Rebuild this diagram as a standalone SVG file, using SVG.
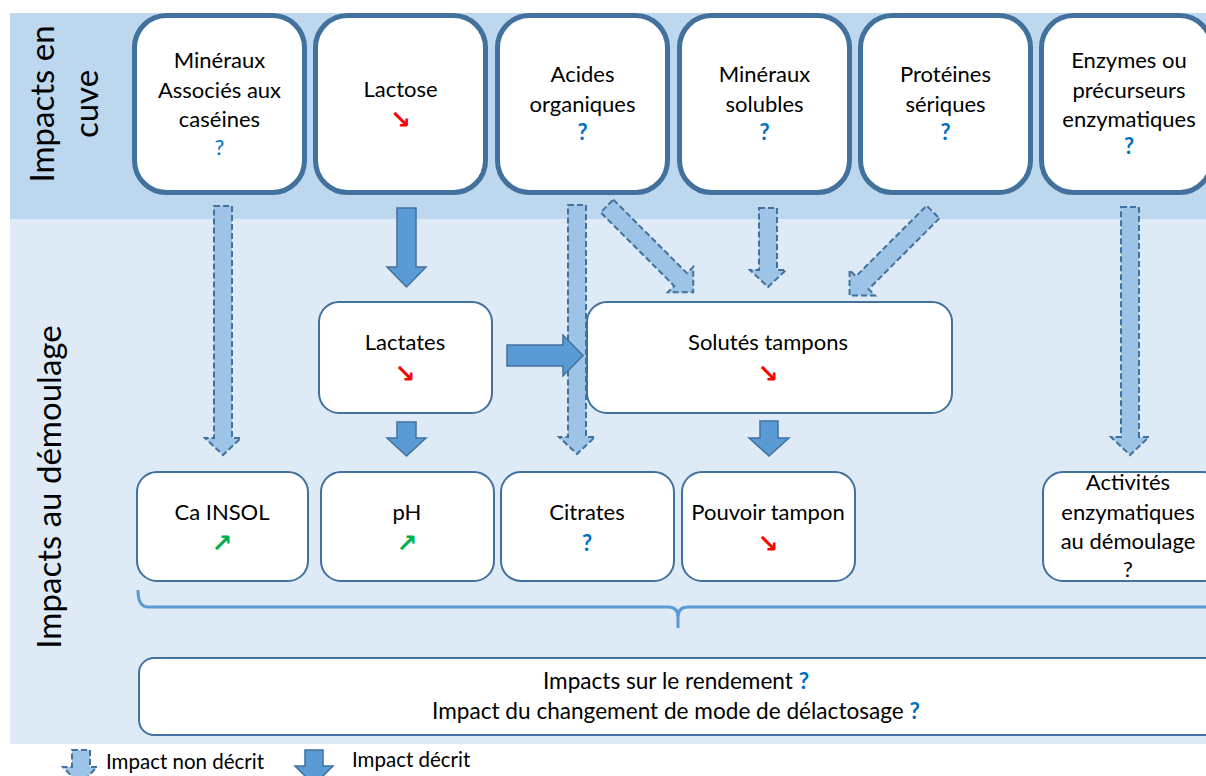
<svg xmlns="http://www.w3.org/2000/svg" width="1206" height="776" viewBox="0 0 1206 776">
<style>
text{font-family:Lato,"Liberation Sans",sans-serif;font-size:22px;fill:#000;text-anchor:middle}
.title{font-size:33px}
.top{fill:#fff;stroke:#41719C;stroke-width:5}
.box{fill:#fff;stroke:#41719C;stroke-width:2}
.dash{fill:#9DC3E6;stroke:#41719C;stroke-width:2;stroke-dasharray:6 3}
.solid{fill:#5B9BD5;stroke:#41719C;stroke-width:1.5}
.q{fill:#0070C0;font-weight:bold}
.ql{fill:#0070C0}
.dn{font-family:"DejaVu Sans",sans-serif;font-size:25px;font-weight:bold;fill:#FF0000}
.up{font-family:"DejaVu Sans",sans-serif;font-size:25px;font-weight:bold;fill:#00B050}
.leg{font-size:20.5px;text-anchor:start}
.big{font-size:22.6px}
</style>
<rect x="10" y="13" width="1196" height="206" fill="#BDD7EE"/>
<rect x="10" y="219" width="1196" height="525" fill="#DEEBF7"/>
<text class="title" transform="translate(54,104) rotate(-90)">Impacts en</text>
<text class="title" transform="translate(98,104) rotate(-90)">cuve</text>
<text class="title" transform="translate(61,487) rotate(-90)">Impacts au démoulage</text>

<g id="n-mineraux-caseines"><rect class="top" x="134.5" y="15.5" width="170" height="177" rx="32"/>
<text x="219.5" y="68">Minéraux</text><text x="219.5" y="98">Associés aux</text><text x="219.5" y="127">caséines</text><text class="ql" x="219.5" y="155">?</text></g>
<g id="n-lactose"><rect class="top" x="315.5" y="15.5" width="170" height="177" rx="32"/>
<text x="400.5" y="97">Lactose</text><text class="dn" x="400.5" y="128">↘</text></g>
<g id="n-acides"><rect class="top" x="497.5" y="15.5" width="170" height="177" rx="32"/>
<text x="582.5" y="82">Acides</text><text x="582.5" y="112">organiques</text><text class="q" x="582.5" y="140">?</text></g>
<g id="n-mineraux-solubles"><rect class="top" x="679.5" y="15.5" width="170" height="177" rx="32"/>
<text x="764.5" y="82">Minéraux</text><text x="764.5" y="112">solubles</text><text class="q" x="764.5" y="140">?</text></g>
<g id="n-proteines"><rect class="top" x="860.5" y="15.5" width="170" height="177" rx="32"/>
<text x="945.5" y="82">Protéines</text><text x="945.5" y="112">sériques</text><text class="q" x="945.5" y="140">?</text></g>
<g id="n-enzymes"><rect class="top" x="1041.5" y="15.5" width="170" height="177" rx="32"/>
<text x="1129" y="68">Enzymes ou</text><text x="1129" y="98">précurseurs</text><text x="1129" y="127">enzymatiques</text><text class="q" x="1129" y="154">?</text></g>

<g id="n-lactates"><rect class="box" x="319" y="302" width="173" height="111" rx="20"/>
<text x="405" y="350">Lactates</text><text class="dn" x="405" y="382">↘</text></g>
<g id="n-solutes"><rect class="box" x="587" y="302" width="365" height="111" rx="20"/>
<text x="768" y="350">Solutés tampons</text><text class="dn" x="768" y="382">↘</text></g>

<g id="n-ca"><rect class="box" x="137" y="472" width="171" height="109" rx="20"/>
<text x="222" y="520">Ca INSOL</text><text class="up" x="222" y="552">↗</text></g>
<g id="n-ph"><rect class="box" x="321" y="472" width="173" height="109" rx="20"/>
<text x="407" y="520">pH</text><text class="up" x="407" y="552">↗</text></g>
<g id="n-citrates"><rect class="box" x="501" y="472" width="173" height="109" rx="20"/>
<text x="587" y="520">Citrates</text><text class="q" x="587" y="551">?</text></g>
<g id="n-pouvoir"><rect class="box" x="682" y="472" width="173" height="109" rx="20"/>
<text x="768" y="520">Pouvoir tampon</text><text class="dn" x="768" y="552">↘</text></g>
<g id="n-activites"><rect class="box" x="1043" y="472" width="180" height="109" rx="20"/>
<text x="1128" y="490">Activités</text><text x="1128" y="520">enzymatiques</text><text x="1128" y="549">au démoulage</text><text x="1128" y="577">?</text></g>

<g id="n-rendement"><rect class="box" x="139" y="658" width="1090" height="77" rx="15"/>
<text class="big" x="676" y="689">Impacts sur le rendement <tspan class="q">?</tspan></text>
<text class="big" x="676" y="719">Impact du changement de mode de délactosage <tspan class="q">?</tspan></text></g>

<g id="connectors">
<path class="dash" d="M214,206 H232 V438 H241 L223,455 L205,438 H214 Z"/>
<path class="dash" d="M568,205 H586 V437 H595 L577,454 L559,437 H568 Z"/>
<path class="dash" d="M759,208 H777 V270 H786 L768,287 L750,270 H759 Z"/>
<path class="dash" d="M1121,207 H1139 V437 H1149 L1130,455 L1111,437 H1121 Z"/>
<path class="dash" transform="translate(607,206) rotate(45)" d="M0,-9 H104 V-18 L122,0 L104,18 V9 H0 Z"/>
<path class="dash" transform="translate(933,212) rotate(135)" d="M0,-9 H100 V-18 L118,0 L100,18 V9 H0 Z"/>
<path class="solid" d="M397,208 H416 V267 H426 L406.5,287 L387,267 H397 Z"/>
<path class="solid" d="M397,422 H416 V438 H426 L406.5,456 L387,438 H397 Z"/>
<path class="solid" d="M507,345 V366 H563 V376 L583,355.5 L563,335 V345 Z"/>
<path class="solid" d="M760,421 H778 V438 H789 L769,456 L749,438 H760 Z"/>
<path d="M138,590 Q138,607 148,607 H668 Q678,607 678,617 V628 M678,617 Q678,607 688,607 H1206" fill="none" stroke="#5B9BD5" stroke-width="3"/>
</g>

<g id="legend">
<path class="dash" d="M72,750 H90 V767 H97 L80,785 L63,767 H72 Z"/>
<text class="leg" x="106" y="769">Impact non décrit</text>
<path class="solid" d="M305,750 H323 V766 H333 L314,785 L295,766 H305 Z"/>
<text class="leg" x="352" y="767">Impact décrit</text>
</g>
</svg>
